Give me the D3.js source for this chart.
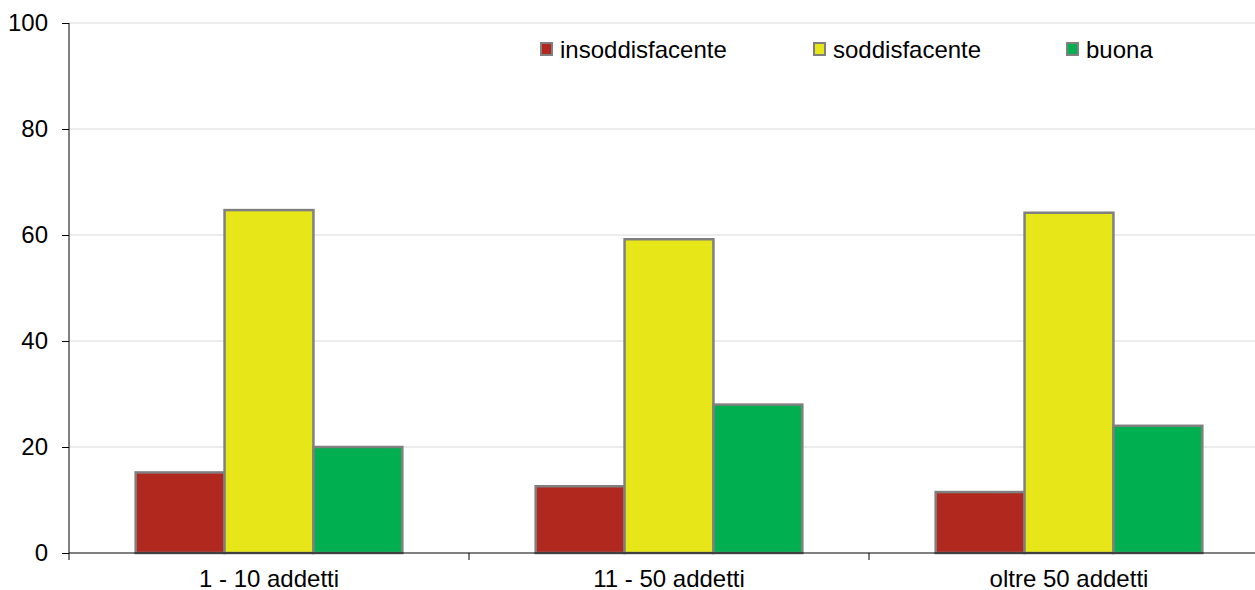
<!DOCTYPE html>
<html lang='it'>
  <meta charset='utf-8'>
  <style>
    body{
      margin: 0;
      background: #fff;
    }
    svg{
      display: block;
      font-family: 'Liberation Sans', Arial, sans-serif;
    }
    .grid line{
      stroke: #d9d9d9;
    }
  </style>
  <body>
    <svg class='chart' width='1255' height='590'></svg>

    <script src='https://d3js.org/d3.v7.min.js'></script>
    <script>
      // dati
      const categories = ['1 - 10 addetti', '11 - 50 addetti', 'oltre 50 addetti']
      const series = ['insoddisfacente', 'soddisfacente', 'buona']
      const insoddisfacente = [15.2, 12.6, 11.5]
      const soddisfacente = [64.7, 59.2, 64.2]
      const buona = [20.0, 28.0, 24.0]
      const yTicks = [0, 20, 40, 60, 80, 100]

      const values = [insoddisfacente, soddisfacente, buona]
      const colors = ['#b0281e', '#e6e619', '#00af50']

      const margin = {left: 69, top: 23, bottom: 37}
      const width = 1200
      const height = 590 - margin.top - margin.bottom
      const fontSize = 24

      let svg = d3.select('svg.chart')
      let g = svg.append('g').attr('transform', `translate(${margin.left},${margin.top})`)

      let x = d3.scaleBand().domain(categories).range([0, width])
      let xInner = d3.scaleBand().domain(series).range([x.bandwidth() / 6, x.bandwidth() * 5 / 6])
      let y = d3.scaleLinear().domain([0, 100]).range([height, 0])

      // griglia
      g.append('g').attr('class', 'grid')
        .selectAll('line')
        .data(yTicks.filter(d => d > 0))
        .join('line')
        .attr('x1', 0).attr('x2', width)
        .attr('y1', d => y(d)).attr('y2', d => y(d))

      // barre
      let groups = g.append('g')
        .selectAll('g')
        .data(categories)
        .join('g')
        .attr('transform', d => `translate(${x(d)},0)`)

      groups.selectAll('rect')
        .data((c, i) => series.map((s, j) => ({s, v: values[j][i], color: colors[j]})))
        .join('rect')
        .attr('x', d => xInner(d.s))
        .attr('y', d => y(d.v))
        .attr('width', xInner.bandwidth())
        .attr('height', d => height - y(d.v))
        .attr('fill', d => d.color)
        .attr('stroke', '#808080')
        .attr('stroke-width', 2.5)

      // assi
      let yAxis = g.append('g')
        .call(d3.axisLeft(y).tickValues(yTicks).tickSize(7).tickPadding(14))
      yAxis.select('.domain').attr('d', `M0,${height}V0`).attr('stroke', '#000')
      yAxis.selectAll('.tick line').attr('stroke', '#000')
      yAxis.selectAll('text').attr('font-size', fontSize).attr('fill', '#000')
        .attr('font-family', "'Liberation Sans', Arial, sans-serif")

      let xAxis = g.append('g')
        .attr('transform', `translate(0,${height})`)
        .call(d3.axisBottom(x).tickSize(0).tickPadding(17))
      xAxis.select('.domain').attr('d', `M0,0H${width}`).attr('stroke', '#000')
      xAxis.selectAll('text').attr('font-size', fontSize).attr('fill', '#000')
        .attr('font-family', "'Liberation Sans', Arial, sans-serif")
      // tacche fra le categorie
      xAxis.append('g')
        .selectAll('line')
        .data(categories)
        .join('line')
        .attr('x1', d => x(d)).attr('x2', d => x(d))
        .attr('y1', 0).attr('y2', 7)
        .attr('stroke', '#000')

      // legenda
      const legendX = [472, 745, 998]
      let legend = g.append('g')
        .selectAll('g')
        .data(series)
        .join('g')
        .attr('transform', (d, i) => `translate(${legendX[i]},20)`)
      legend.append('rect')
        .attr('width', 11).attr('height', 12)
        .attr('fill', (d, i) => colors[i])
        .attr('stroke', '#808080')
        .attr('stroke-width', 2)
      legend.append('text')
        .attr('x', 19).attr('y', 6.5)
        .attr('dy', '0.35em')
        .attr('font-size', fontSize)
        .text(d => d)
    </script>
</body>
</html>
